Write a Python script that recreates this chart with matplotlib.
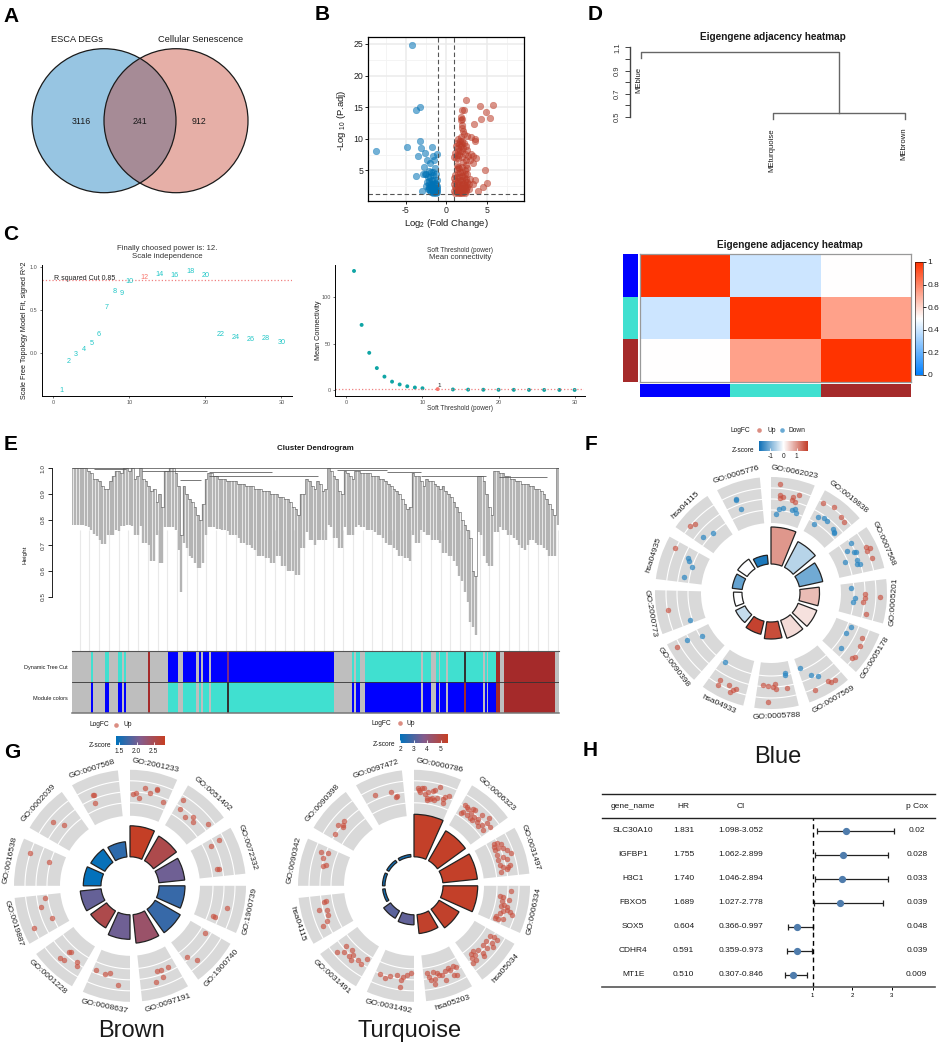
#!/usr/bin/env python
# multi panel figure: venn, volcano, soft threshold, eigengene, dendrogram, GO circles, forest
import numpy as np, matplotlib as mpl
mpl.use('Agg')
import matplotlib.pyplot as plt
from matplotlib.patches import Circle
from matplotlib.colors import LinearSegmentedColormap, ListedColormap, Normalize
from matplotlib.cm import ScalarMappable

plt.rcParams['font.family'] = ['Liberation Sans', 'DejaVu Sans']
plt.rcParams['mathtext.default'] = 'regular'
plt.rcParams['axes.unicode_minus'] = False

W, H = 945, 1046

###################################################  B
blue_x = [-4.3,-3.3,-3.7,-8.7,-4.9,-3.2,-3.1,-1.8,-2.7,-3.5,-1.1,-1.6,-1.5,-2.4,-2.0,-2.8,-1.4,-3.7,-2.9,-2.7,-2.5,-2.2,-1.9,-1.6,-1.3,-2.3,-2.0,-1.7,-1.2,-2.4,-2.1,-1.8,-1.5,-2.2,-1.9,-1.6,-1.3,-1.1,-3.0,-2.5,-2.2,-1.9,-1.6,-1.4,-2.1,-1.8,-1.5,-1.2,-2.0,-1.7,-1.4,-1.1,-1.6,-1.3,-1.9,-1.5,-1.8,-1.2,-1.4,-2.3]
blue_y = [24.9,15.1,14.6,8.0,8.7,9.7,8.5,8.7,7.8,7.2,7.6,7.2,6.7,6.6,6.2,5.6,5.3,4.1,4.5,4.4,4.5,4.9,4.8,4.8,4.4,4.0,3.9,4.3,3.4,3.2,3.3,3.4,3.5,2.9,2.8,2.9,2.8,2.6,1.8,2.5,2.4,2.3,2.4,2.2,2.0,1.9,2.0,1.9,1.7,1.6,1.6,1.5,1.4,1.4,1.5,1.8,2.6,2.2,3.0,2.1]
red_x = [2.4,5.8,4.2,1.9,2.2,4.9,1.8,1.9,4.3,5.4,1.8,2.0,3.4,2.0,2.1,2.2,2.6,3.1,3.6,3.6,1.8,1.5,1.7,2.0,1.3,1.6,1.9,2.2,1.2,1.5,1.8,2.1,2.5,1.4,1.7,2.0,2.6,1.1,1.3,1.6,2.3,3.1,3.3,1.0,1.2,1.5,2.0,2.7,3.7,2.4,2.9,3.3,2.1,1.3,1.4,2.5,4.8,1.3,1.6,2.0,2.3,2.6,1.1,1.4,1.7,2.0,2.3,2.6,1.0,1.3,1.6,1.9,2.2,2.5,2.9,3.6,5.0,1.1,1.4,1.7,2.0,2.3,2.6,2.8,1.0,1.3,1.6,1.9,2.2,2.5,3.3,4.6,1.1,1.4,1.7,2.0,2.3,2.6,1.2,1.5,1.8,2.1,2.4,2.8,1.0,1.3,1.6,1.9,2.2,2.5,3.9,1.1,1.4,1.7,2.0,2.3]
red_y = [16.2,15.4,15.2,14.6,14.6,14.2,13.5,13.2,13.1,13.3,12.9,12.2,12.4,11.7,11.2,10.8,10.5,10.2,9.9,9.6,10.2,9.9,9.6,9.7,9.4,9.2,9.2,9.3,8.8,8.6,8.8,8.6,8.8,8.1,8.0,8.1,8.2,7.7,7.5,7.5,7.6,7.6,7.3,7.1,6.9,7.0,7.1,7.2,6.9,6.6,6.6,6.1,6.4,5.9,5.6,5.8,5.1,5.2,5.3,5.5,5.1,5.3,4.2,4.6,4.7,4.8,4.4,4.4,3.8,3.9,4.0,4.1,3.9,3.7,3.6,3.4,3.0,3.3,3.3,3.4,3.4,3.3,3.2,2.9,2.9,2.8,2.9,2.8,2.8,2.7,2.8,2.4,2.4,2.3,2.4,2.4,2.3,2.3,2.0,1.9,2.0,1.9,2.0,2.1,1.7,1.6,1.6,1.6,1.6,1.7,1.8,1.4,1.4,1.4,1.4,1.4]

###################################################  C
power = [1,2,3,4,5,6,7,8,9,10,12,14,16,18,20,22,24,26,28,30]
fit_r2 = [-0.43,-0.09,-0.01,0.04,0.11,0.22,0.535,0.717,0.70,0.837,0.88,0.92,0.91,0.957,0.907,0.213,0.186,0.16,0.167,0.13]
mean_k = [128,70,40,23.6,14.4,9,6,4,2.7,1.9,1,0.6,0.4,0.3,0.25,0.2,0.15,0.1,0.1,0.1]

###################################################  D
adjacency = [[1,0.4,0.5],[0.4,1,0.73],[0.5,0.73,1]]
module_cols = ['#0000FF','#40E0D0','#A52A2A']

###################################################  E
leaf_top = [1,1,1,1,1,1,
    .99,.98,.96,.96,.95,.93,.92,.92,.95,.97,
    .99,.99,.98,1,1,.99,1,.96,.97,1,
    .96,.95,.93,.91,.92,.87,.90,.85,.99,.99,1,1,
    .98,.93,.74,.93,.90,.88,.87,.85,.82,.80,.86,.96,
    .98,.98,.97,.97,.96,.96,.96,.95,.95,.95,.95,.94,.94,.94,.93,.93,.93,.92,.92,.92,.91,.91,.91,.90,.90,.90,.89,.89,.88,.88,.87,.85,.84,.82,
    .9,.9,.96,.95,.93,.92,.95,.94,.91,.92,
    1,.99,.97,.96,.91,.90,
    .99,.98,.97,.96,.99,.99,.98,.98,.98,.98,.97,
    .97,.97,.96,.96,.95,.94,.93,.92,.91,.90,.88,.86,.84,.85,
    .98,.97,.97,.95,.93,.96,.95,.95,.94,.93,.92,.93,.91,.90,.89,
    .87,.85,.83,.80,.78,.76,.73,.60,.58,
    .97,.97,.95,.90,.85,.82,
    .99,.99,.98,.98,.97,.97,.96,.96,.95,.95,.94,.94,.94,.93,.93,.92,.92,.91,.90,.88,.86,.84,.82,1]
leaf_low = [.78,.78,.78,.78,.78,.775,
    .77,.76,.745,.735,.72,.705,.705,.74,.74,.74,
    .76,.755,.775,.775,.78,.78,.775,.74,.74,.775,
    .71,.71,.70,.64,.64,.74,.63,.63,.77,.77,.77,.77,
    .76,.68,.52,.71,.69,.66,.65,.63,.61,.61,.63,.74,
    .77,.77,.77,.765,.765,.76,.76,.755,.74,.74,.74,.73,.71,.71,.70,.70,.69,.68,.66,.66,.66,.65,.65,.63,.63,.66,.66,.62,.62,.60,.60,.60,.585,.585,
    .69,.69,.75,.72,.72,.70,.72,.72,.72,.72,
    .78,.77,.73,.73,.69,.69,
    .77,.74,.74,.74,.77,.78,.77,.77,.76,.76,.76,
    .75,.74,.74,.73,.71,.70,.70,.69,.68,.66,.66,.65,.65,.64,
    .74,.71,.71,.76,.75,.74,.74,.72,.72,.72,.71,.67,.67,.66,.66,
    .64,.62,.58,.56,.52,.48,.40,.38,.35,
    .75,.74,.66,.63,.62,.62,
    .75,.75,.77,.76,.76,.74,.74,.73,.72,.70,.69,.68,.70,.72,.72,.71,.70,.70,.69,.68,.66,.66,.66,.78]
link_x0 = [187,245,370,470,545,545,880,1010,1100,1305]
link_x1 = [1460,330,540,525,710,830,1010,1100,1270,1430]
link_h = [1.0,.998,.99,.955,.985,.97,.995,.985,.97,.965]
band_edges = [187,238,244,275,286,307,319,323,329,386,391,439,466,477,513,520,525,531,545,551,592,598,873,920,925,930,942,953,1100,1106,1127,1139,1146,1150,1165,1172,1213,1217,1261,1267,1272,1276,1296,1307,1317,1450,1460]
dyn_names = 'g t g t g t g t g r g b g b g b g b g b p b g t g t g t g t g t g t g t d t g t g t r g r g'.split()
band_colors = {'g':'#BEBEBE','t':'#40E0D0','b':'#0000FF','r':'#A52A2A','p':'#7A2A8A','d':'#333333'}
swap_names = {'t':'b','b':'t','p':'d','d':'r','g':'g','r':'r'}

###################################################  F
blue_terms = ['GO:0062023','GO:0019838','GO:0007568','GO:0005201','GO:0005178','GO:0007569','GO:0005788','hsa04933','GO:0090398','GO:2000773','hsa04935','hsa04115','GO:0005776']
blue_bar = [66,58,53,48.5,49,48,46,42.5,39.5,37.5,39,40.5,38]
blue_z = [1.0,-.55,-1.1,.65,.3,.35,1.7,1.8,-.45,0,-1.2,0,-1.75]
blue_up_ang = [4.7,5.2,5.4,7.3,15.8,13,12.5,15,30,36.4,42.6,45.8,64.2,65.7,66.3,71.1,91.9,90.4,92.8,95.8,102.3,116.2,120.5,128.6,127.3,146.8,146.1,143.6,155.4,184.8,182,178.6,177.5,177.2,170.4,181.4,210.5,210,204.5,202.4,201.6,200,240.4,260.4,295,309.8,312.2]
blue_up_r = [109,98,95,97,102,99,95,94,103.5,107,103,102,106,108.6,104.5,107,108.7,94,94,92.8,96.9,101.8,103.7,104,105,104.8,107.6,108.5,106.7,92.3,92.7,93.7,91,96.4,96,108.7,101,106.6,101.5,106.7,104.3,102.3,108.5,104,106,105,102]
blue_dn_ang = [7.8,5.7,3.6,14,16,17,31.4,35.4,37.7,31.6,44.2,45.8,46.5,57.9,60.8,63.5,64,68.9,71.4,72.1,67,86.4,93.6,96,113.3,118,128.5,158.7,153.8,150.2,169.9,170.1,213.4,238.3,240.6,251.8,293,291.2,288.1,280.7,309.3,315.8,339.7,339.2,340.5]
blue_dn_r = [86,84,79,86,87,84,89.5,91.6,91.5,81.4,89,88,87,94,86.7,92.8,94.5,91.8,91,93.5,80.4,80,83.8,82.8,86.7,84.5,89,80.9,91.4,95.3,81.6,83,83,81,96.4,85.6,90,87.6,83.4,88.2,88,83.7,99.9,99.5,88.8]

###################################################  G brown
brown_terms = ['GO:2001233','GO:0051402','GO:0072332','GO:1900739','GO:1900740','GO:0097191','GO:0008637','GO:0001228','GO:0019887','GO:0016538','GO:0002039','GO:0007568']
brown_bar = [60,57.4,55,55,58,57.6,53.5,48.6,50,46.7,45.3,44.3]
brown_z = [2.8,2.55,2.0,1.7,1.7,2.35,2.0,2.55,1.95,1.42,1.45,1.65]
brown_ang = [2.1,3.5,5.9,8.5,12.4,15.7,15.8,21.5,31.8,33,38.7,42.5,44.9,51.8,62.8,63.9,79.2,79.4,102.9,110.2,109.8,122.3,141,138.3,155.2,159.9,162.2,159.9,165,202.1,196.1,192.8,186.7,222.7,221.7,223.9,221.5,214.8,213.4,261.8,256.9,247.3,246.2,288.4,286.7,309.5,312.7,337.7,338.6,337]
brown_r = [91.9,92.6,87.8,99,94.7,101,100,90,100.5,91.8,88.5,93.7,89.8,99.7,100,90,89,90.5,99.9,88.8,90.7,88.7,91,100,90,90,89.5,97,99.4,91.2,91.4,89,99.9,89.5,89,100.5,99.6,92.8,95.7,85.5,91.7,84.2,105.3,105,84.2,100.3,89.3,98.5,97.6,90.4]

###################################################  G turquoise
turq_terms = ['GO:0000786','GO:0006323','GO:0031497','GO:0006334','hsa05034','hsa05203','GO:0031492','GO:0031491','hsa04115','GO:0090342','GO:0090398','GO:0097472']
turq_bar = [71.5,63.5,63.7,63.7,52,48,39,37.5,31.5,31.5,31.5,31.5]
turq_z = [5.45,5.45,5.45,5.45,5.4,5.4,3.3,3.2,2.2,2.2,2.2,2.2]
turq_ang = [3.0,4.5,5.9,3.7,6.8,8.6,10.5,11.5,12.4,14.8,13.1,14.5,18.4,19.3,21.5,19.5,8.7,11.3,2.5,8.3,
    32.3,35.3,37.7,33.7,36.7,38.1,41,43.7,44,47.9,52.2,48.1,51.2,44.4,39.8,33,47.2,38.9,33.7,41.6,49.1,
    62.6,62.9,64.3,66.2,66.1,67.3,68.9,71.2,69.6,71.9,73.6,76.5,78,79,80.8,80,77.9,73.1,64.4,
    93,96.6,96.9,98.4,100.1,103.4,104.5,106.5,106,107.6,110.1,111.6,110.6,102.6,101.9,105,111.8,
    123.3,122.4,122.9,127.7,126.4,127.7,130.4,130.6,134.4,135.3,137.9,140.2,138.5,140,142.3,141.4,135.1,
    171.3,167.8,165,167.3,170,167.9,160,157.4,153.8,152.5,161.2,155.8,154.4,162.7,170.4,156.8,164.4,
    201.3,197.4,194.8,190.6,186.7,184.7,182.2,188,187.9,
    229.4,226.7,228.6,224.2,221.3,222.5,220.3,216.7,214.2,212.5,
    260.1,255.4,254.1,251.4,247.8,246,260,
    289.7,290.7,286.7,283.6,282.4,
    313,308.7,309.6,303.2,310.9,
    336.7,346,349.5,348.5]
turq_r = [95.8,98.6,97.9,93.5,92.3,89.3,87.8,96.9,97.9,101.7,88,90.2,91,93.6,96.4,88,95,90,97.4,87,
    95.4,94,97,89,88,92,91.5,93,98.4,101.6,96.2,90.9,88.9,89.6,87.6,86.3,87.7,97.2,95,87.9,96.2,
    90.5,92.9,96.2,88.5,92.2,96.8,99.3,102.5,88.2,93.3,96.6,88.4,91.3,96.1,87.8,94,98.2,88,88.7,
    97.1,86.6,89.3,95.7,89,89,95.7,101.9,92.9,90.2,87.3,90.7,94.7,94.9,92.3,99.4,87,
    91,94.7,99.3,91,96.5,100.3,91,95.7,96.2,99.3,88.5,88.5,92,96.5,97,92.5,91.2,
    88.3,88.3,90.4,95.7,96,100,91.1,89.2,89.1,91,99.3,97.6,98.7,93.2,92,91.4,93.1,
    94.5,96.8,93.8,90.5,92,90,87.4,95.6,101.7,
    102,95.8,90.7,89.3,91.9,95.8,97.9,93,94.8,87,
    91.4,97.8,90,91,94.3,100,89.7,
    98.8,91.6,95.3,90.5,93.5,
    95.3,97,92.6,94.4,93.6,
    98.7,96.2,91.5,90.2]

###################################################  H
gene_names = ['SLC30A10','IGFBP1','H3C1','FBXO5','SOX5','CDHR4','MT1E']
hr = [1.831,1.755,1.740,1.689,0.604,0.591,0.510]
ci_low = [1.098,1.062,1.046,1.027,0.366,0.359,0.307]
ci_high = [3.052,2.899,2.894,2.778,0.997,0.973,0.846]
p_cox = ['0.02','0.028','0.033','0.039','0.048','0.039','0.009']

###################################################
fig = plt.figure(figsize=(W/100, H/100), dpi=100)

def px_ax(x0, y0, x1, y1, **kw):
    return fig.add_axes([x0/W, 1-y1/H, (x1-x0)/W, (y1-y0)/H], **kw)

over = fig.add_axes([0, 0, 1, 1], zorder=10)
over.set_xlim(0, W); over.set_ylim(H, 0); over.axis('off'); over.patch.set_alpha(0)

def txt(x, y, s, size=6, **kw):
    kw.setdefault('ha', 'center'); kw.setdefault('va', 'center'); kw.setdefault('color', '#1a1a1a')
    over.text(x, y, s, fontsize=size, **kw)

for letter, x, y in [('A',11,16),('B',322,15),('C',11,235),('D',595,15),('E',11,445),('F',591,445),('G',12,752),('H',590,751)]:
    txt(x, y, letter, 15, fontweight='bold', color='black')

################################################### A
c1 = Circle((104,120.7), 72, fc='#97C5E2', ec='none')
c2 = Circle((176,120.7), 72, fc='#E6AFA7', ec='none')
over.add_patch(c1); over.add_patch(c2)
mid = Circle((104,120.7), 72, fc='#A68B96', ec='none')
over.add_patch(mid); mid.set_clip_path(c2)
for c in [(104,120.7),(176,120.7)]:
    over.add_patch(Circle(c, 72, fc='none', ec='#1a1a1a', lw=0.9))
txt(77, 40, 'ESCA DEGs', 6.7); txt(201, 40, 'Cellular Senescence', 6.7)
txt(81, 121, '3116', 6.3); txt(140, 121, '241', 6.3); txt(199, 121, '912', 6.3)

################################################### B
ax = px_ax(368, 37, 524.3, 201)
ax.set_xlim(-9.7, 9.66); ax.set_ylim(0.15, 26.1)
ax.set_xticks([-5,0,5]); ax.set_yticks([5,10,15,20,25])
ax.set_xticks([-7.5,-2.5,2.5,7.5], minor=True); ax.set_yticks([2.5,7.5,12.5,17.5,22.5], minor=True)
ax.grid(True, which='major', color='#EBEBEB', lw=1.1); ax.grid(True, which='minor', color='#F3F3F3', lw=0.6)
ax.set_axisbelow(True)
ax.tick_params(which='minor', length=0)
ax.tick_params(which='major', labelsize=6.3, length=2, width=0.6, pad=1.5, labelcolor='#222222')
ax.scatter(blue_x, blue_y, s=22, c='#0072B5', alpha=.55, edgecolors='#0072B5', linewidths=.4)
ax.scatter(red_x, red_y, s=22, c='#BC3C29', alpha=.55, edgecolors='#BC3C29', linewidths=.4)
for v in (-1, 1):
    ax.axvline(v, color='#555555', ls=(0,(4,2.5)), lw=.8)
ax.axhline(1.3, color='#555555', ls=(0,(4,2.5)), lw=.8)
for s in ax.spines.values():
    s.set_linewidth(.9)
txt(446, 224, 'Log$_2$ (Fold Change)', 6.8)
txt(342, 120, '-Log $_{10}$ (P.adj)', 6.8, rotation=90)

################################################### C
ax = px_ax(42, 265, 292, 395.7)
ax.set_xlim(-1.5, 31.4); ax.set_ylim(-0.493, 1.027)
for p, r in zip(power, fit_r2):
    ax.text(p, r, str(p), ha='center', va='center', fontsize=5.2, color='#F8766D' if p == 12 else '#22C7C7')
ax.axhline(0.85, color='#F08080', ls=':', lw=.9)
ax.text(0.1, 0.875, 'R squared Cut 0.85', fontsize=5, va='center', color='#222222')
ax.set_xticks([0,10,20,30]); ax.set_yticks([0,0.5,1.0]); ax.set_yticklabels(['0.0','0.5','1.0'])
ax2 = px_ax(335, 265, 584.5, 395.7)
ax2.set_xlim(-1.5, 31.3); ax2.set_ylim(-6.1, 134.4)
ax2.scatter(power, mean_k, s=8, c=['#F8766D' if p == 12 else '#10A5A5' for p in power], linewidths=0)
ax2.axhline(1.3, color='#F08080', ls=':', lw=.9)
ax2.text(12.2, 2.5, '1', fontsize=4.5, ha='center', va='bottom', color='#222222')
ax2.set_xticks([0,10,20,30]); ax2.set_yticks([0,50,100])
for a in (ax, ax2):
    a.spines['top'].set_visible(False); a.spines['right'].set_visible(False)
    a.spines['left'].set_linewidth(.7); a.spines['bottom'].set_linewidth(.7)
    a.tick_params(labelsize=4, length=1.5, width=.4, pad=1.5, labelcolor='#555555')
txt(167, 248.5, 'Finally choosed power is: 12.', 5.6, color='#333333')
txt(167, 257, 'Scale independence', 5.6, color='#333333')
txt(25, 330, 'Scale Free Topology Model Fit, signed R^2', 5.2, rotation=90)
txt(460, 250.5, 'Soft Threshold (power)', 4.7, color='#333333')
txt(460, 257.3, 'Mean connectivity', 5.6, color='#333333')
txt(460, 408.7, 'Soft Threshold (power)', 4.7, color='#333333')
txt(318, 330, 'Mean Connectivity', 5.2, rotation=90)

################################################### D dendrogram
tree_col = '#666666'
ax = px_ax(630, 47.3, 910, 117)
ax.set_ylim(0.5, 1.1); ax.set_xlim(630, 910)
ax.set_xticks([]); ax.patch.set_alpha(0)
for s in ['top','right','bottom']:
    ax.spines[s].set_visible(False)
ax.spines['left'].set_color('#444444'); ax.spines['left'].set_linewidth(1)
ax.set_yticks(np.arange(0.5, 1.11, 0.1))
ax.set_yticklabels(['0.5','','0.7','','0.9','','1.1'], rotation=90, va='center', fontsize=5.5, color='#333333')
ax.tick_params(axis='y', length=3.5, width=.7, color='#444444', pad=3)
over.plot([640.7,640.7,839,839], [57.7,52,52,113], color=tree_col, lw=1)
over.plot([773,773,905,905], [119,113,113,119], color=tree_col, lw=1)
txt(639, 79.5, 'MEblue', 5.6, rotation=90)
txt(771.7, 150, 'MEturquoise', 5.6, rotation=90)
txt(904, 144, 'MEbrown', 5.6, rotation=90)
txt(772.7, 37, 'Eigengene adjacency heatmap', 7.2, fontweight='bold')

################################################### D heatmap
heat_cmap = LinearSegmentedColormap.from_list('heat', ['#0080FF','#FFFFFF','#FF3300'])
ax = px_ax(640, 254.3, 911, 382)
im = ax.imshow(adjacency, cmap=heat_cmap, vmin=0, vmax=1, aspect='auto')
ax.set_xticks([]); ax.set_yticks([])
for s in ax.spines.values():
    s.set_color('#999999'); s.set_linewidth(.9)
mod_cmap = ListedColormap(module_cols)
ax = px_ax(623, 254.3, 638, 382); ax.imshow([[0],[1],[2]], cmap=mod_cmap, aspect='auto'); ax.axis('off')
ax = px_ax(640, 384, 911, 397); ax.imshow([[0,1,2]], cmap=mod_cmap, aspect='auto'); ax.axis('off')
cax = px_ax(915, 262, 922.7, 375)
cb = fig.colorbar(im, cax=cax)
cb.set_ticks([0,.2,.4,.6,.8,1]); cb.set_ticklabels(['0','0.2','0.4','0.6','0.8','1'])
cb.ax.tick_params(labelsize=6, length=2.5, width=.6, pad=1, labelcolor='#222222')
cb.outline.set_linewidth(.4)
txt(790, 245, 'Eigengene adjacency heatmap', 7.2, fontweight='bold')

################################################### E
ax = px_ax(71.6, 465, 558.7, 651)
ax.set_xlim(187, 1460); ax.set_ylim(1-(651-468.3)/256.7, 1+(468.3-465)/256.7)
ax.vlines(np.arange(208, 1460, 25.5), ax.get_ylim()[0], .76, color='#E9E9E9', lw=.8, zorder=1)
leaf_x = np.linspace(189, 1457, len(leaf_top))
ax.vlines(leaf_x, leaf_low, leaf_top, color='#B4B4B4', lw=1.7, zorder=2)
ax.step(leaf_x, leaf_top, where='mid', color='#6A6A6A', lw=.45, zorder=3)
ax.hlines(link_h, link_x0, link_x1, color='#555555', lw=.55, zorder=3)
for s in ['top','right','bottom']:
    ax.spines[s].set_visible(False)
ax.spines['left'].set_position(('outward', 14)); ax.spines['left'].set_bounds(.5, 1.0)
ax.spines['left'].set_linewidth(.6)
ax.set_xticks([]); ax.set_yticks([.5,.6,.7,.8,.9,1.0])
ax.tick_params(axis='y', labelsize=4.6, length=3, width=.6, pad=1.5, labelcolor='#333333')
plt.setp(ax.get_yticklabels(), rotation=90, va='center')
txt(315, 449, 'Cluster Dendrogram', 5.7, fontweight='bold')
txt(24.5, 555, 'Height', 4.6, rotation=90)

ax = px_ax(71.6, 651, 558.7, 713)
ax.set_xlim(187, 1460); ax.set_ylim(2, 0)
widths = np.diff(band_edges)
ax.barh([0.5]*len(widths), widths, height=1, left=band_edges[:-1], color=[band_colors[n] for n in dyn_names], lw=0)
ax.barh([1.5]*len(widths), widths, height=1, left=band_edges[:-1], color=[band_colors[swap_names[n]] for n in dyn_names], lw=0)
ax.axhline(1, color='#333333', lw=.6)
ax.set_xticks([]); ax.set_yticks([])
for s in ['left','right']:
    ax.spines[s].set_visible(False)
ax.spines['top'].set_color('#555555'); ax.spines['bottom'].set_color('#777777')
ax.spines['bottom'].set_linewidth(1.1)
txt(68, 667, 'Dynamic Tree Cut', 4.0, ha='right')
txt(68, 698, 'Module colors', 4.0, ha='right')

################################################### F G circles
div_cmap = LinearSegmentedColormap.from_list('div', ['#0F70B7','#FFFFFF','#C23A26'])
seq_cmap = LinearSegmentedColormap.from_list('seq', ['#0072BC','#845C8C','#C73E22'])
RING_IN, RING_OUT, BAR_IN = 70, 116, 29
GUIDE_R = [83, 94, 105]

def go_circle(cx, cy, terms, bar_r, zs, cmap, norm, pts_up, pts_down=None):
    half = 135
    a = px_ax(cx-half, cy-half, cx+half, cy+half, projection='polar')
    a.set_theta_zero_location('N'); a.set_theta_direction(-1)
    a.set_ylim(0, half); a.set_axis_off()
    step = 360/len(terms)
    span = step*0.8
    for i, term in enumerate(terms):
        th0 = np.radians(i*step)
        a.bar(th0, RING_OUT-RING_IN, width=np.radians(span), bottom=RING_IN, align='edge', color='#D9D9D9', lw=0)
        arc = np.linspace(th0, th0+np.radians(span), 30)
        for g in GUIDE_R:
            a.plot(arc, [g]*30, color='white', lw=.8)
        a.bar(th0, bar_r[i]-BAR_IN, width=np.radians(span), bottom=BAR_IN, align='edge', color=cmap(norm(zs[i])), edgecolor='#222222', lw=.9)
        mid_deg = i*step + span/2
        rot = 180-mid_deg if 90 < mid_deg < 270 else -mid_deg
        a.text(np.radians(mid_deg), 123, term, fontsize=6, ha='center', va='center', rotation=rot, rotation_mode='anchor', color='#222222', clip_on=False)
    a.scatter(np.radians(pts_up[0]), pts_up[1], s=13, c='#C9503F', alpha=.65, edgecolors='#C9503F', linewidths=.3, zorder=5)
    if pts_down is not None:
        a.scatter(np.radians(pts_down[0]), pts_down[1], s=13, c='#2A86C2', alpha=.7, edgecolors='#2A86C2', linewidths=.3, zorder=5)

def z_legend(x0, x1, y0, y1, cmap, norm, ticks, ticklabels):
    c = px_ax(x0, y0, x1, y1)
    b = fig.colorbar(ScalarMappable(norm=norm, cmap=cmap), cax=c, orientation='horizontal')
    b.set_ticks(ticks); b.set_ticklabels(ticklabels)
    b.outline.set_visible(False)
    c.tick_params(labelsize=4.8, direction='in', color='white', length=2.2, width=.6, pad=2, labelcolor='#222222')

blue_norm = Normalize(-1.86, 1.88)
go_circle(771, 593, blue_terms, blue_bar, blue_z, div_cmap, blue_norm, (blue_up_ang, blue_up_r), (blue_dn_ang, blue_dn_r))
z_legend(759, 808.3, 440.7, 450.7, div_cmap, blue_norm, [-1,0,1], ['-1','0','1'])
txt(743, 451, 'Z-score', 4.8)
txt(740, 430, 'LogFC', 4.8); over.scatter([759],[430], s=11, c='#C9503F', alpha=.65, linewidths=0)
txt(772, 430, 'Up', 4.8); over.scatter([782],[430], s=11, c='#2A86C2', alpha=.7, linewidths=0)
txt(797, 430, 'Down', 4.8)
txt(778, 757, 'Blue', 17)

brown_norm = Normalize(1.40, 2.83)
go_circle(130, 885.8, brown_terms, brown_bar, brown_z, seq_cmap, brown_norm, (brown_ang, brown_r))
z_legend(116, 165, 736, 745.3, seq_cmap, brown_norm, [1.5,2.0,2.5], ['1.5','2.0','2.5'])
txt(100, 745.7, 'Z-score', 4.8)
txt(99, 724.7, 'LogFC', 4.8); over.scatter([116.3],[724.7], s=11, c='#C9503F', alpha=.65, linewidths=0); txt(127.7, 724.7, 'Up', 4.8)
txt(132, 1031, 'Brown', 17)

turq_norm = Normalize(1.95, 5.57)
go_circle(414, 885.8, turq_terms, turq_bar, turq_z, seq_cmap, turq_norm, (turq_ang, turq_r))
z_legend(399.7, 448.3, 734, 743.3, seq_cmap, turq_norm, [2,3,4,5], ['2','3','4','5'])
txt(384, 744.3, 'Z-score', 4.8)
txt(381, 723.3, 'LogFC', 4.8); over.scatter([399.7],[723.3], s=11, c='#C9503F', alpha=.65, linewidths=0); txt(411, 723.3, 'Up', 4.8)
txt(410, 1031, 'Turquoise', 17)

################################################### H
ax = px_ax(601.7, 818, 934.7, 987)
ax.set_xlim(1+(601.7-812.7)/39.5, 1+(934.7-812.7)/39.5); ax.set_ylim(6.5, -0.53)
rows = np.arange(len(gene_names))
ax.errorbar(hr, rows, xerr=[np.array(hr)-np.array(ci_low), np.array(ci_high)-np.array(hr)], fmt='o', ms=4.2, color='#4F7CAC', ecolor='#222222', elinewidth=.9, capsize=2.2, capthick=.9)
ax.axvline(1, color='black', ls=(0,(3.5,2.5)), lw=1)
for s in ['top','left','right']:
    ax.spines[s].set_visible(False)
ax.spines['bottom'].set_linewidth(1.2); ax.spines['bottom'].set_color('#555555')
ax.set_yticks([]); ax.set_xticks([1,2,3])
ax.tick_params(axis='x', labelsize=4.3, length=2.5, width=.7, pad=1.5)
over.plot([601.7,934.7],[794,794], color='#222222', lw=1)
over.plot([601.7,934.7],[818,818], color='#222222', lw=1)
row_px = [830.7,854.7,878.7,902.7,926.7,950.7,975]
txt(633.3, 806.7, 'gene_name', 6); txt(683.7, 806.7, 'HR', 6); txt(740.7, 806.7, 'CI', 6); txt(916.7, 806.7, 'p Cox', 6)
for i, y in enumerate(row_px):
    txt(633.3, y, gene_names[i], 6)
    txt(683.7, y, '%.3f' % hr[i], 6)
    txt(740.7, y, '%.3f-%.3f' % (ci_low[i], ci_high[i]), 6)
    txt(916.7, y, p_cox[i], 6)

plt.savefig('out.png', dpi=100)
